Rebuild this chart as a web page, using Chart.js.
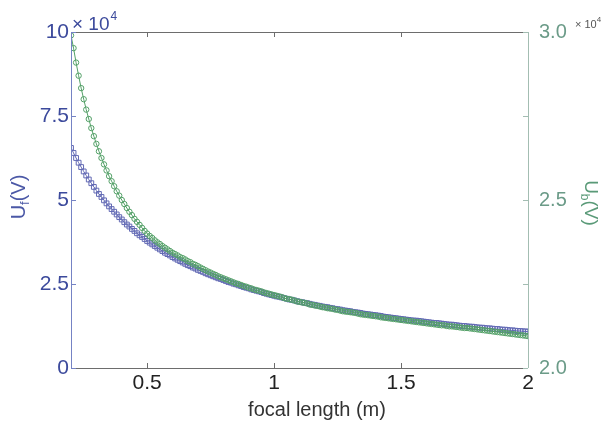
<!DOCTYPE html>
<html>
<head>
<meta charset="utf-8">
<script src="https://cdn.jsdelivr.net/npm/chart.js@4.4.0/dist/chart.umd.min.js"></script>
<style>
  html, body { margin: 0; padding: 0; background: #ffffff; }
  #myChart { display: block; }
</style>
</head>
<body>
<canvas id="myChart" width="608" height="426"></canvas>
<script>
// focal length samples (m)
var focalLength = [
  0.20, 0.21, 0.22, 0.23, 0.24, 0.25, 0.26, 0.27, 0.28, 0.29,
  0.30, 0.31, 0.32, 0.33, 0.34, 0.35, 0.36, 0.37, 0.38, 0.39,
  0.40, 0.41, 0.42, 0.43, 0.44, 0.45, 0.46, 0.47, 0.48, 0.49,
  0.50, 0.51, 0.52, 0.53, 0.54, 0.55, 0.56, 0.57, 0.58, 0.59,
  0.60, 0.61, 0.62, 0.63, 0.64, 0.65, 0.66, 0.67, 0.68, 0.69,
  0.70, 0.71, 0.72, 0.73, 0.74, 0.75, 0.76, 0.77, 0.78, 0.79,
  0.80, 0.81, 0.82, 0.83, 0.84, 0.85, 0.86, 0.87, 0.88, 0.89,
  0.90, 0.91, 0.92, 0.93, 0.94, 0.95, 0.96, 0.97, 0.98, 0.99,
  1.00, 1.01, 1.02, 1.03, 1.04, 1.05, 1.06, 1.07, 1.08, 1.09,
  1.10, 1.11, 1.12, 1.13, 1.14, 1.15, 1.16, 1.17, 1.18, 1.19,
  1.20, 1.21, 1.22, 1.23, 1.24, 1.25, 1.26, 1.27, 1.28, 1.29,
  1.30, 1.31, 1.32, 1.33, 1.34, 1.35, 1.36, 1.37, 1.38, 1.39,
  1.40, 1.41, 1.42, 1.43, 1.44, 1.45, 1.46, 1.47, 1.48, 1.49,
  1.50, 1.51, 1.52, 1.53, 1.54, 1.55, 1.56, 1.57, 1.58, 1.59,
  1.60, 1.61, 1.62, 1.63, 1.64, 1.65, 1.66, 1.67, 1.68, 1.69,
  1.70, 1.71, 1.72, 1.73, 1.74, 1.75, 1.76, 1.77, 1.78, 1.79,
  1.80, 1.81, 1.82, 1.83, 1.84, 1.85, 1.86, 1.87, 1.88, 1.89,
  1.90, 1.91, 1.92, 1.93, 1.94, 1.95, 1.96, 1.97, 1.98, 1.99,
  2.00
];

// Uf in units of 10^4 V (left axis)
var ufValues = [
  6.55, 6.40, 6.25, 6.11, 5.98, 5.85, 5.73, 5.61, 5.50, 5.39,
  5.28, 5.18, 5.09, 4.99, 4.90, 4.81, 4.73, 4.65, 4.57, 4.49,
  4.42, 4.34, 4.27, 4.21, 4.14, 4.08, 4.01, 3.95, 3.90, 3.84,
  3.78, 3.73, 3.68, 3.63, 3.58, 3.53, 3.48, 3.43, 3.39, 3.35,
  3.30, 3.26, 3.22, 3.18, 3.14, 3.10, 3.06, 3.03, 2.99, 2.96,
  2.92, 2.89, 2.86, 2.82, 2.79, 2.76, 2.73, 2.70, 2.67, 2.65,
  2.62, 2.59, 2.56, 2.54, 2.51, 2.49, 2.46, 2.44, 2.41, 2.39,
  2.37, 2.34, 2.32, 2.30, 2.28, 2.26, 2.23, 2.21, 2.19, 2.17,
  2.15, 2.13, 2.12, 2.10, 2.08, 2.06, 2.04, 2.03, 2.01, 1.99,
  1.97, 1.96, 1.94, 1.93, 1.91, 1.89, 1.88, 1.86, 1.85, 1.83,
  1.82, 1.81, 1.79, 1.78, 1.76, 1.75, 1.74, 1.72, 1.71, 1.70,
  1.69, 1.67, 1.66, 1.65, 1.64, 1.62, 1.61, 1.60, 1.59, 1.58,
  1.57, 1.56, 1.55, 1.53, 1.52, 1.51, 1.50, 1.49, 1.48, 1.47,
  1.46, 1.45, 1.44, 1.43, 1.42, 1.41, 1.41, 1.40, 1.39, 1.38,
  1.37, 1.36, 1.35, 1.34, 1.34, 1.33, 1.32, 1.31, 1.30, 1.29,
  1.29, 1.28, 1.27, 1.26, 1.25, 1.25, 1.24, 1.23, 1.23, 1.22,
  1.21, 1.20, 1.20, 1.19, 1.18, 1.18, 1.17, 1.16, 1.16, 1.15,
  1.14, 1.14, 1.13, 1.12, 1.12, 1.11, 1.10, 1.10, 1.09, 1.09,
  1.08
];

// Ub in units of 10^4 V (right axis)
var ubValues = [
  2.990, 2.952, 2.909, 2.870, 2.833, 2.800, 2.769, 2.741, 2.714, 2.690,
  2.667, 2.645, 2.625, 2.606, 2.588, 2.571, 2.556, 2.541, 2.526, 2.513,
  2.500, 2.488, 2.476, 2.465, 2.455, 2.444, 2.435, 2.426, 2.417, 2.408,
  2.400, 2.393, 2.387, 2.380, 2.374, 2.369, 2.363, 2.358, 2.353, 2.348,
  2.343, 2.339, 2.335, 2.330, 2.327, 2.323, 2.318, 2.315, 2.310, 2.307,
  2.303, 2.299, 2.295, 2.291, 2.287, 2.284, 2.280, 2.277, 2.273, 2.270,
  2.267, 2.264, 2.261, 2.258, 2.255, 2.252, 2.250, 2.247, 2.244, 2.242,
  2.239, 2.237, 2.234, 2.232, 2.230, 2.228, 2.225, 2.223, 2.221, 2.219,
  2.217, 2.215, 2.213, 2.211, 2.208, 2.206, 2.205, 2.203, 2.201, 2.198,
  2.197, 2.195, 2.194, 2.192, 2.189, 2.188, 2.186, 2.185, 2.183, 2.181,
  2.180, 2.178, 2.177, 2.176, 2.174, 2.173, 2.171, 2.169, 2.168, 2.167,
  2.166, 2.165, 2.164, 2.162, 2.160, 2.159, 2.158, 2.157, 2.156, 2.155,
  2.154, 2.153, 2.151, 2.150, 2.149, 2.148, 2.147, 2.146, 2.145, 2.144,
  2.143, 2.142, 2.141, 2.140, 2.139, 2.138, 2.137, 2.136, 2.135, 2.134,
  2.133, 2.132, 2.131, 2.130, 2.129, 2.128, 2.127, 2.127, 2.125, 2.124,
  2.124, 2.123, 2.122, 2.121, 2.120, 2.119, 2.119, 2.118, 2.117, 2.116,
  2.115, 2.114, 2.113, 2.112, 2.111, 2.110, 2.109, 2.108, 2.107, 2.106,
  2.105, 2.104, 2.103, 2.102, 2.101, 2.100, 2.099, 2.098, 2.097, 2.096,
  2.095
];

// tick positions
var xTicks = [0.5, 1, 1.5, 2];
var leftTicks = [0, 2.5, 5, 7.5, 10];
var rightTicks = [2.0, 2.25, 2.5, 2.75, 3.0];
var rightLabels = [2.0, 2.5, 3.0];

// colours
var navy = '#3c4a9c';
var blueMark = '#6269b4';
var greenMark = '#53a067';
var rightText = '#6b9b88';
var fontName = '"Liberation Sans", Arial, sans-serif';

// build point lists from the arrays
function toPoints(xs, ys) {
  var pts = [];
  for (var i = 0; i < xs.length; i++) {
    pts.push({ x: xs[i], y: ys[i] });
  }
  return pts;
}

function setTicks(values) {
  return function(scale) {
    scale.ticks = values.map(function(v) { return { value: v }; });
  };
}

// draws the box, inward ticks, the x10^4 notes and the axis titles
var framePlugin = {
  id: 'frame',
  afterDraw: function(chart) {
    var ctx = chart.ctx;
    var a = chart.chartArea;
    var sx = chart.scales.x, sl = chart.scales.yL, sr = chart.scales.yR;
    ctx.save();
    ctx.lineWidth = 1;

    // top and bottom lines
    ctx.strokeStyle = '#6d6d6d';
    ctx.beginPath();
    ctx.moveTo(a.left, a.top + 0.5); ctx.lineTo(a.right, a.top + 0.5);
    ctx.moveTo(a.left, a.bottom + 0.5); ctx.lineTo(a.right, a.bottom + 0.5);
    xTicks.forEach(function(v) {
      var px = Math.round(sx.getPixelForValue(v)) + 0.5;
      ctx.moveTo(px, a.bottom); ctx.lineTo(px, a.bottom - 5);
      ctx.moveTo(px, a.top); ctx.lineTo(px, a.top + 5);
    });
    ctx.stroke();

    // left axis line
    ctx.strokeStyle = '#7583c4';
    ctx.beginPath();
    ctx.moveTo(a.left + 0.5, a.top); ctx.lineTo(a.left + 0.5, a.bottom);
    leftTicks.forEach(function(v) {
      var py = Math.round(sl.getPixelForValue(v)) + 0.5;
      ctx.moveTo(a.left, py); ctx.lineTo(a.left + 5, py);
    });
    ctx.stroke();

    // right axis line
    ctx.strokeStyle = '#a3bdb2';
    ctx.beginPath();
    ctx.moveTo(a.right + 0.5, a.top); ctx.lineTo(a.right + 0.5, a.bottom);
    rightTicks.forEach(function(v) {
      var py = Math.round(sr.getPixelForValue(v)) + 0.5;
      ctx.moveTo(a.right, py); ctx.lineTo(a.right - 5, py);
    });
    ctx.stroke();

    // x 10^4 on the left
    ctx.fillStyle = navy;
    ctx.textBaseline = 'alphabetic';
    ctx.textAlign = 'left';
    ctx.font = '19px ' + fontName;
    ctx.fillText('\u00d7 10', 72, 30);
    var w = ctx.measureText('\u00d7 10').width;
    ctx.font = '12px ' + fontName;
    ctx.fillText('4', 72 + w + 1, 20);

    // x 10^4 on the right
    ctx.fillStyle = '#555555';
    ctx.font = '11px ' + fontName;
    ctx.fillText('\u00d7 10', 575, 28);
    w = ctx.measureText('\u00d7 10').width;
    ctx.font = '8px ' + fontName;
    ctx.fillText('4', 575 + w, 22);

    // axis titles with subscripts
    drawSubTitle(ctx, 'U', 'f', '(V)', 19, 197, -Math.PI / 2, '#4b58a6', 20);
    drawSubTitle(ctx, 'U', 'b', '(V)', 590, 203, Math.PI / 2, '#5a9a78', 19);

    // x axis title
    ctx.fillStyle = '#333333';
    ctx.font = '20px ' + fontName;
    ctx.textAlign = 'center';
    ctx.textBaseline = 'middle';
    ctx.fillText('focal length (m)', 317, 410);
    ctx.restore();
  }
};

function drawSubTitle(ctx, main, sub, tail, cx, cy, angle, color, size) {
  var subSize = Math.round(size * 0.65);
  ctx.save();
  ctx.translate(cx, cy);
  ctx.rotate(angle);
  ctx.fillStyle = color;
  ctx.textBaseline = 'middle';
  ctx.textAlign = 'left';
  ctx.font = size + 'px ' + fontName;
  var w1 = ctx.measureText(main).width;
  var w3 = ctx.measureText(tail).width;
  ctx.font = subSize + 'px ' + fontName;
  var w2 = ctx.measureText(sub).width;
  var start = -(w1 + w2 + w3) / 2;
  ctx.font = size + 'px ' + fontName;
  ctx.fillText(main, start, 0);
  ctx.font = subSize + 'px ' + fontName;
  ctx.fillText(sub, start + w1, 6);
  ctx.font = size + 'px ' + fontName;
  ctx.fillText(tail, start + w1 + w2, 0);
  ctx.restore();
}

var ctx = document.getElementById('myChart').getContext('2d');
var myChart = new Chart(ctx, {
  type: 'scatter',
  data: {
    datasets: [{
      label: 'Uf',
      data: toPoints(focalLength, ufValues),
      yAxisID: 'yL',
      showLine: true,
      borderColor: blueMark,
      borderWidth: 1,
      pointStyle: 'rect',
      pointRadius: 3.4,
      pointBorderWidth: 1,
      pointBorderColor: blueMark,
      pointBackgroundColor: 'rgba(0,0,0,0)',
      order: 2
    },
    {
      label: 'Ub',
      data: toPoints(focalLength, ubValues),
      yAxisID: 'yR',
      showLine: true,
      borderColor: greenMark,
      borderWidth: 1,
      pointStyle: 'circle',
      pointRadius: 2.7,
      pointBorderWidth: 1,
      pointBorderColor: greenMark,
      pointBackgroundColor: 'rgba(0,0,0,0)',
      order: 1
    }]
  },
  options: {
    responsive: false,
    animation: false,
    devicePixelRatio: 1,
    layout: { padding: { top: 32, left: 0, right: 0, bottom: 0 } },
    plugins: {
      legend: { display: false },
      tooltip: { enabled: false }
    },
    scales: {
      x: {
        type: 'linear',
        min: 0.2,
        max: 2,
        afterBuildTicks: setTicks(xTicks),
        afterFit: function(s) { s.height = 58; },
        grid: { display: false, drawTicks: false },
        border: { display: false },
        ticks: {
          color: '#222222',
          padding: 3,
          maxRotation: 0,
          font: { size: 21, family: fontName },
          callback: function(v) { return String(v); }
        }
      },
      yL: {
        type: 'linear',
        position: 'left',
        min: 0,
        max: 10,
        afterBuildTicks: setTicks(leftTicks),
        afterFit: function(s) { s.width = 71; },
        grid: { display: false, drawTicks: false },
        border: { display: false },
        ticks: {
          color: navy,
          padding: 2,
          font: { size: 21, family: fontName },
          callback: function(v) { return String(v); }
        }
      },
      yR: {
        type: 'linear',
        position: 'right',
        min: 2,
        max: 3,
        afterBuildTicks: setTicks(rightTicks),
        afterFit: function(s) { s.width = 80; },
        grid: { display: false, drawTicks: false },
        border: { display: false },
        ticks: {
          color: rightText,
          padding: 11,
          font: { size: 20, family: fontName },
          callback: function(v) {
            return rightLabels.indexOf(v) >= 0 ? v.toFixed(1) : '';
          }
        }
      }
    }
  },
  plugins: [framePlugin]
});
</script>
</body>
</html>
